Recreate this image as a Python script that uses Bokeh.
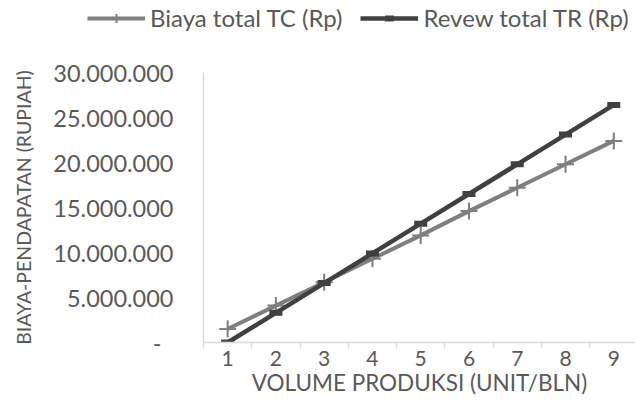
from bokeh.plotting import figure
from bokeh.layouts import column
from bokeh.models import ColumnDataSource, Range1d, FixedTicker, Legend, LegendItem, Column
from bokeh.embed import file_html
from bokeh.resources import INLINE

# ---- data ----
volume = [1, 2, 3, 4, 5, 6, 7, 8, 9]
biaya_total_tc = [1500000, 4100000, 6700000, 9300000, 11900000, 14600000, 17200000, 19800000, 22400000]
revenue_total_tr = [0, 3300000, 6600000, 9900000, 13200000, 16500000, 19800000, 23100000, 26400000]
y_ticks = [0, 5000000, 10000000, 15000000, 20000000, 25000000, 30000000]
y_tick_labels = ["-\u00a0\u00a0", "5.000.000", "10.000.000", "15.000.000", "20.000.000", "25.000.000", "30.000.000"]
x_ticks = volume
x_boundaries = [0.5, 1.5, 2.5, 3.5, 4.5, 5.5, 6.5, 7.5, 8.5, 9.5]
series_names = ["Biaya total TC (Rp)", "Revew total TR (Rp)"]
x_title = "VOLUME PRODUKSI (UNIT/BLN)"
y_title = "BIAYA-PENDAPATAN (RUPIAH)"

FONT = "Lato"
TEXT = "#595959"
TC_COLOR = "#7f7f7f"
TR_COLOR = "#404040"

src = ColumnDataSource(dict(x=volume, tc=biaya_total_tc, tr=revenue_total_tr))


def draw_series(fig):
    a = fig.line("x", "tc", source=src, line_color=TC_COLOR, line_width=4)
    b = fig.scatter("x", "tc", source=src, marker="cross", size=17, line_color=TC_COLOR, line_width=2)
    c = fig.line("x", "tr", source=src, line_color=TR_COLOR, line_width=4.5)
    d = fig.scatter("x", "tr", source=src, marker="dash", size=13, line_color=TR_COLOR, line_width=6)
    return a, b, c, d


# ---- main chart ----
p = figure(width=635, height=365, output_backend="svg", toolbar_location=None,
           x_range=Range1d(0.5, 9.45), y_range=Range1d(0, 30000000),
           min_border_left=203, min_border_right=0, min_border_top=36, min_border_bottom=59)
p.outline_line_color = None
p.xgrid.grid_line_color = None
p.ygrid.grid_line_color = None
draw_series(p)

xa = p.xaxis[0]
xa.ticker = FixedTicker(ticks=x_ticks, minor_ticks=x_boundaries)
xa.axis_line_color = "#d9d9d9"
xa.axis_line_width = 1.5
xa.major_tick_line_color = None
xa.major_tick_out = 5
xa.major_tick_in = 0
xa.minor_tick_line_color = "#d9d9d9"
xa.minor_tick_line_width = 1.5
xa.minor_tick_out = 5
xa.minor_tick_in = 0
xa.major_label_text_font = FONT
xa.major_label_text_font_size = "21px"
xa.major_label_text_color = TEXT
xa.major_label_standoff = 3
xa.axis_label = x_title
xa.axis_label_text_font = FONT
xa.axis_label_text_font_size = "22.5px"
xa.axis_label_text_font_style = "normal"
xa.axis_label_text_color = TEXT
xa.axis_label_standoff = 0

ya = p.yaxis[0]
ya.ticker = FixedTicker(ticks=y_ticks, minor_ticks=[])
ya.major_label_overrides = {t: l for t, l in zip(y_ticks, y_tick_labels)}
ya.axis_line_color = "#d9d9d9"
ya.axis_line_width = 1.5
ya.major_tick_line_color = None
ya.major_tick_out = 0
ya.major_tick_in = 0
ya.minor_tick_line_color = None
ya.major_label_text_font = FONT
ya.major_label_text_font_size = "23.5px"
ya.major_label_text_color = TEXT
ya.major_label_standoff = 30
ya.axis_label = y_title
ya.axis_label_text_font = FONT
ya.axis_label_text_font_size = "19.5px"
ya.axis_label_text_font_style = "normal"
ya.axis_label_text_color = TEXT
ya.axis_label_standoff = 15

# ---- legend strip (series drawn out of view; only the legend shows) ----
lg = figure(width=635, height=36, output_backend="svg", toolbar_location=None,
            x_range=Range1d(1000, 1001), y_range=Range1d(1000, 1001),
            x_axis_type=None, y_axis_type=None,
            min_border_left=0, min_border_right=0, min_border_top=0, min_border_bottom=0)
lg.outline_line_color = None
lg.xgrid.grid_line_color = None
lg.ygrid.grid_line_color = None
ltc_line, ltc_pts, ltr_line, ltr_pts = draw_series(lg)

legend = Legend(items=[LegendItem(label=series_names[0], renderers=[ltc_line, ltc_pts]),
                       LegendItem(label=series_names[1], renderers=[ltr_line, ltr_pts])],
                orientation="horizontal", location=(87, 4),
                padding=0, margin=0, spacing=18, label_standoff=5,
                glyph_width=58, glyph_height=22,
                label_text_font=FONT, label_text_font_size="24px", label_text_color=TEXT,
                border_line_color=None, background_fill_alpha=0)
lg.add_layout(legend)

layout = column(Column(children=[lg]), Column(children=[p]), spacing=0)
open("out.html", "w").write(file_html(layout, INLINE))
